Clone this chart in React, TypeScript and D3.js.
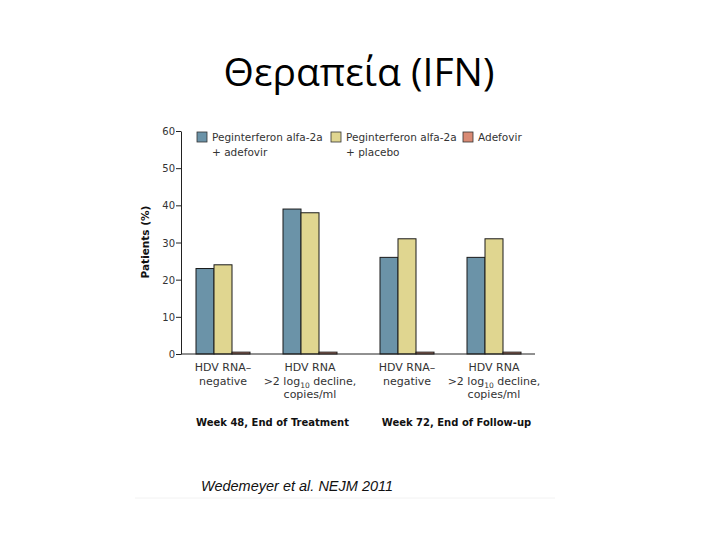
import * as d3 from "d3";
import { useEffect, useRef } from "react";

const width = 720,
  height = 540;

const weeks = ["Week 48, End of Treatment", "Week 72, End of Follow-up"];
const outcomes = ["neg", "decline"];
const seriesNames = [
  ["Peginterferon alfa-2a", "+ adefovir"],
  ["Peginterferon alfa-2a", "+ placebo"],
  ["Adefovir"],
];
const seriesColors = ["#6b93a8", "#e0d690", "#d98a74"];
// values per series: [w48 neg, w48 decline, w72 neg, w72 decline]
const pegAdefovir = [23, 39, 26, 26];
const pegPlacebo = [24, 38, 31, 31];
const adefovirOnly = [0.5, 0.5, 0.5, 0.5];
const yTicks = [0, 10, 20, 30, 40, 50, 60];

export default function App() {
  const ref = useRef<SVGSVGElement | null>(null);

  useEffect(() => {
    if (!ref.current) return;
    const svg = d3.select(ref.current);
    svg.selectAll("*").remove();

    svg.append("rect").attr("width", width).attr("height", height).attr("fill", "#fff");

    // title
    svg
      .append("text")
      .attr("x", 359)
      .attr("y", 86)
      .attr("text-anchor", "middle")
      .attr("font-family", "Open Sans, Noto Sans, sans-serif")
      .attr("font-size", 39)
      .attr("fill", "#000")
      .text("Θεραπεία (IFN)");

    const y = d3.scaleLinear([0, 60], [354, 131]);
    const weekX = d3.scaleBand(weeks, [174.5, 542.5]);
    const outX = d3.scaleBand(outcomes, [5, 179]);
    const serX = d3.scaleBand([0, 1, 2].map(String), [-27, 27]);

    const series = [pegAdefovir, pegPlacebo, adefovirOnly];

    // y axis
    svg
      .append("g")
      .attr("transform", "translate(181,0)")
      .call(d3.axisLeft(y).tickValues(yTicks).tickSize(5).tickSizeOuter(0))
      .call((g) => g.select(".domain").attr("stroke", "#222"))
      .call((g) => g.selectAll(".tick line").attr("stroke", "#222"))
      .call((g) =>
        g
          .selectAll(".tick text")
          .attr("font-family", "DejaVu Sans, sans-serif")
          .attr("font-size", 10)
          .attr("fill", "#333")
          .attr("x", -6)
          .attr("dy", "0.35em")
      );

    svg
      .append("text")
      .attr("transform", "translate(149,242) rotate(-90)")
      .attr("text-anchor", "middle")
      .attr("font-family", "DejaVu Sans, sans-serif")
      .attr("font-weight", "bold")
      .attr("font-size", 10.5)
      .attr("fill", "#111")
      .text("Patients (%)");

    // bars
    weeks.forEach((w, wi) => {
      outcomes.forEach((o, oi) => {
        const idx = wi * 2 + oi;
        const cx = weekX(w)! + outX(o)! + outX.bandwidth() / 2;
        series.forEach((s, si) => {
          const x0 = cx + serX(String(si))!;
          svg
            .append("rect")
            .attr("x", x0)
            .attr("y", y(s[idx]))
            .attr("width", serX.bandwidth())
            .attr("height", y(0) - y(s[idx]))
            .attr("fill", seriesColors[si])
            .attr("stroke", "#1a1a1a")
            .attr("stroke-width", 1);
        });
        // category label
        const lines =
          o === "neg"
            ? ["HDV RNA–", "negative"]
            : ["HDV RNA", ">2 log10 decline,", "copies/ml"];
        const t = svg
          .append("text")
          .attr("text-anchor", "middle")
          .attr("font-family", "DejaVu Sans, sans-serif")
          .attr("font-size", 11)
          .attr("fill", "#333");
        lines.forEach((ln, li) => {
          const ts = t.append("tspan").attr("x", cx).attr("y", 371 + li * 13.5);
          if (ln.includes("log10")) {
            ts.append("tspan").text(">2 log");
            ts.append("tspan").attr("font-size", 7.5).attr("dy", 3).text("10");
            ts.append("tspan").attr("dy", -3).text(" decline,");
          } else {
            ts.text(ln);
          }
        });
      });
      svg
        .append("text")
        .attr("x", weekX(w)! + weekX.bandwidth() / 2 + 6)
        .attr("y", 426)
        .attr("text-anchor", "middle")
        .attr("font-family", "DejaVu Sans, sans-serif")
        .attr("font-weight", "bold")
        .attr("font-size", 10)
        .attr("fill", "#111")
        .text(w);
    });

    // x axis line
    svg
      .append("line")
      .attr("x1", 181)
      .attr("x2", 535)
      .attr("y1", y(0))
      .attr("y2", y(0))
      .attr("stroke", "#222");

    // legend
    const legX = [197, 331, 463];
    seriesNames.forEach((names, i) => {
      svg
        .append("rect")
        .attr("x", legX[i])
        .attr("y", 132)
        .attr("width", 10)
        .attr("height", 10)
        .attr("fill", seriesColors[i])
        .attr("stroke", "#333")
        .attr("stroke-width", 0.8);
      names.forEach((n, li) => {
        svg
          .append("text")
          .attr("x", legX[i] + 15)
          .attr("y", 141 + li * 15)
          .attr("font-family", "DejaVu Sans, sans-serif")
          .attr("font-size", 10.5)
          .attr("fill", "#333")
          .text(n);
      });
    });

    // citation
    svg
      .append("text")
      .attr("x", 201)
      .attr("y", 491)
      .attr("font-family", "Liberation Sans, Arial, sans-serif")
      .attr("font-style", "italic")
      .attr("font-size", 14.5)
      .attr("fill", "#111")
      .text("Wedemeyer et al. NEJM 2011");
    svg
      .append("line")
      .attr("x1", 135)
      .attr("x2", 555)
      .attr("y1", 498)
      .attr("y2", 498)
      .attr("stroke", "#f2f2f2");
  }, []);

  return (
    <svg
      ref={ref}
      width={width}
      height={height}
      style={{ position: "absolute", left: 0, top: 0 }}
    />
  );
}
